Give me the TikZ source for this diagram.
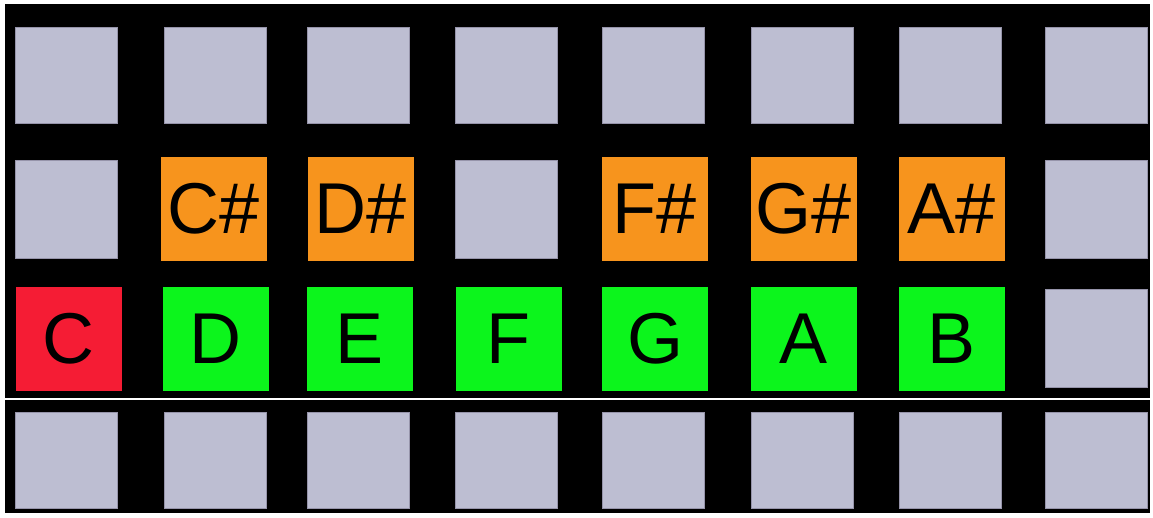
\documentclass[tikz,border=0pt]{standalone}
\usepackage{fontspec}
\setmainfont{Liberation Sans}
\definecolor{padgray}{RGB}{189,190,210}
\definecolor{padedge}{RGB}{150,148,170}
\definecolor{padorange}{RGB}{247,148,29}
\definecolor{padgreen}{RGB}{12,245,28}
\definecolor{padred}{RGB}{245,28,52}
\begin{document}
\begin{tikzpicture}[x=1pt,y=-1pt,
  graypad/.style={fill=padgray,draw=padedge,line width=0.8pt,minimum width=102pt,minimum height=96pt,inner sep=0pt,outer sep=0pt},
  notepad/.style={minimum width=106pt,minimum height=104pt,inner sep=0pt,outer sep=0pt,text=black,font=\fontsize{72}{72}\selectfont},
  sharp/.style={notepad,fill=padorange},
  natural/.style={notepad,fill=padgreen},
  root/.style={notepad,fill=padred}]
\useasboundingbox (0,0) rectangle (1153,517);
\fill[white] (0,0) rectangle (1153,517);
\fill[black] (5,4) rectangle (1150,513);
% row 1
\foreach \i/\x in {1/66.5,2/215,3/358,4/506,5/653,6/802,7/950,8/1096.5}
  \node[graypad] (r1c\i) at (\x,75) {};
% row 2
\node[graypad,minimum height=98pt] (r2c1) at (66.5,209) {};
\node[sharp] (cs) at (214,209) {C\#};
\node[sharp] (ds) at (360.5,209) {D\#};
\node[graypad,minimum height=98pt] (r2c4) at (506,209) {};
\node[sharp] (fs) at (655,209) {F\#};
\node[sharp] (gs) at (803.5,209) {G\#};
\node[sharp] (as) at (951.5,209) {A\#};
\node[graypad,minimum height=98pt] (r2c8) at (1096.5,209) {};
% row 3
\node[root] (c) at (68.5,339) {C};
\node[natural] (d) at (215.5,339) {D};
\node[natural] (e) at (360,339) {E};
\node[natural] (f) at (508.5,339) {F};
\node[natural] (g) at (655,339) {G};
\node[natural] (a) at (803.5,339) {A};
\node[natural] (b) at (951.5,339) {B};
\node[graypad,minimum height=98pt] (r3c8) at (1096.5,338) {};
% separator
\coordinate (sepl) at (5,399);
\coordinate (sepr) at (1150,399);
\draw[white,line width=2.5pt] (sepl) -- (sepr);
% row 4
\foreach \i/\x in {1/66.5,2/215,3/358,4/506,5/653,6/802,7/950,8/1096.5}
  \node[graypad] (r4c\i) at (\x,460) {};
\end{tikzpicture}
\end{document}
